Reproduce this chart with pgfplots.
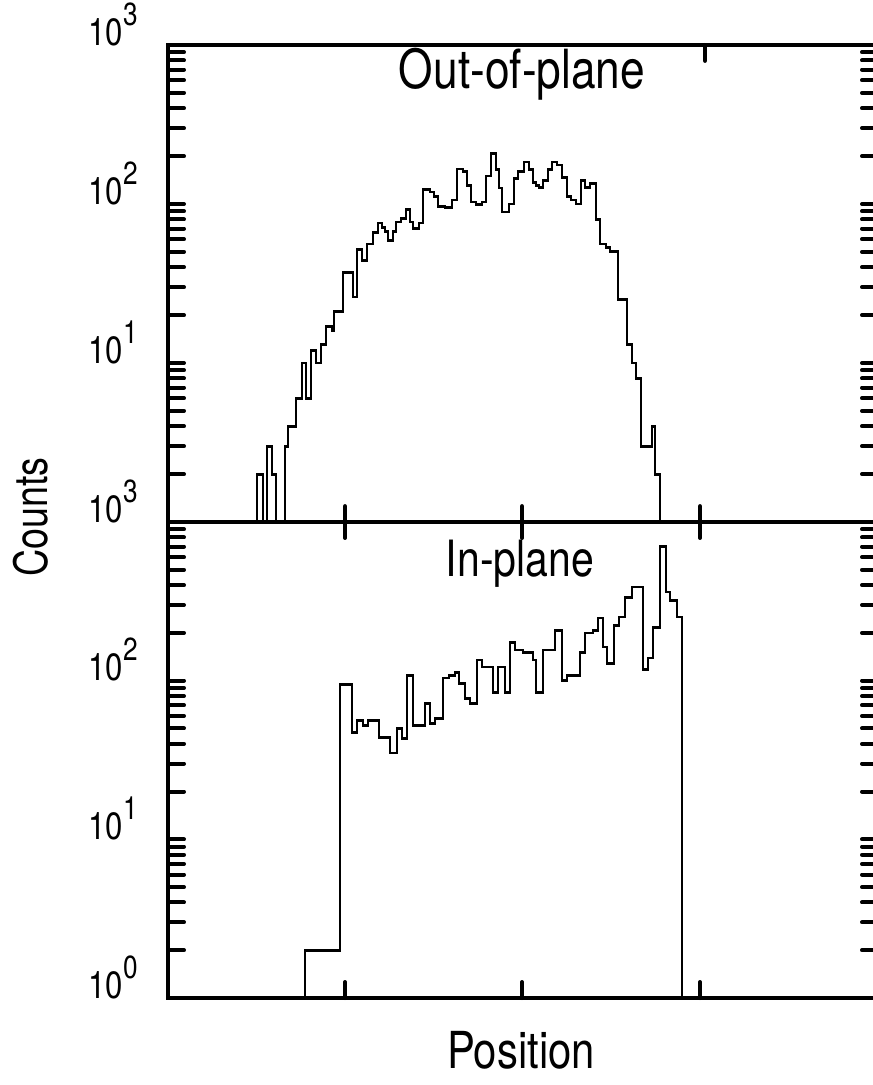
\documentclass[border=0pt]{standalone}
\usepackage{fontspec}
\setmainfont{TeX Gyre Heros}[FakeStretch=0.82]
\usepackage{pgfplots}
\pgfplotsset{compat=1.18}
\newcommand\tlab[1]{10\raisebox{0.52em}{\fontsize{32}{32}\selectfont #1}}
\pgfplotstableread{
x y
257 1
257 2
263 1
267 3
272 2
276 1
285 3
288 4
296 6
302 10
306 6
311 12
316 10
321 13
326 17
332 16
334 21
343 37
353 26
357 52
362 44
367 56
373 66
378 76
382 71
385 67
388 59
393 67
396 77
401 81
406 92
410 77
413 70
419 76
423 124
430 119
434 112
438 96
445 95
452 106
457 166
463 160
467 130
471 103
476 99
482 103
486 150
491 209
496 164
499 126
502 89
509 100
514 144
518 160
524 184
529 164
533 137
536 130
539 127
543 141
548 164
552 184
557 176
562 146
567 112
571 106
576 100
581 141
585 127
590 135
596 80
600 56
606 53
610 50
618 25
627 13
632 10
636 8
641 3
652 4
655 2
660 1
}\outplane
\pgfplotstableread{
x y
305 1
305 2
340 95
352 47
357 56
363 52
368 56
379 44
390 35
397 50
402 43
407 108
413 52
425 72
430 54
435 58
443 104
449 108
455 112
459 96
465 77
470 72
477 135
482 122
493 84
498 122
505 84
510 175
515 156
523 150
533 135
536 84
543 156
555 208
562 100
567 108
580 150
585 200
593 208
598 248
603 163
607 129
614 224
619 252
625 336
632 389
643 118
648 139
653 216
660 705
666 362
670 322
677 252
682 1
}\inplane
\begin{document}
\begin{tikzpicture}
\pgfplotsset{every axis/.append style={
    ymode=log, scale only axis, width=710pt,
    xmin=168, xmax=878, ymin=1, ymax=1000,
    axis line style={line width=4pt},
    tick style={line width=4pt, black, line cap=round},
    major tick length=16pt, minor tick length=16pt,
    tick align=inside,
    xticklabels={}}}
\begin{axis}[at={(168pt,-45pt)}, anchor=north west, height=477pt,
    ytick={1,10,100,1000},
    minor ytick={2,3,4,5,6,7,8,9,20,30,40,50,60,70,80,90,200,300,400,500,600,700,800,900},
    xtick={345,522,700}, xtick pos=bottom,
    yticklabel style={anchor=base east, inner sep=0pt, xshift=-30pt,
      font=\fontsize{38}{38}\selectfont},
    yticklabels={,\tlab{1},\tlab{2},\tlab{3}}]
\addplot[const plot mark left, no marks, black, line width=2.8pt, line join=miter] table[x=x,y=y] {\outplane};
\end{axis}
\begin{axis}[at={(168pt,-45pt)}, anchor=north west, height=477pt,
    axis x line*=top, axis y line=none,
    xtick={705}, ytick=\empty]
\end{axis}
\begin{axis}[at={(168pt,-522pt)}, anchor=north west, height=476pt,
    ytick={1,10,100,1000},
    minor ytick={2,3,4,5,6,7,8,9,20,30,40,50,60,70,80,90,200,300,400,500,600,700,800,900},
    xtick={345,522,700},
    yticklabel style={anchor=base east, inner sep=0pt, xshift=-30pt,
      font=\fontsize{38}{38}\selectfont},
    yticklabels={\tlab{0},\tlab{1},\tlab{2},\tlab{3}}]
\addplot[const plot mark left, no marks, black, line width=2.8pt, line join=miter] table[x=x,y=y] {\inplane};
\end{axis}
\node[anchor=base, font=\fontsize{54}{54}\selectfont, inner sep=0pt] at (522pt,-88pt) {Out-of-plane};
\node[anchor=base, font=\fontsize{50}{50}\selectfont, inner sep=0pt] at (520pt,-576pt) {In-plane};
\node[rotate=90, font=\fontsize{46}{46}\selectfont, inner sep=0pt] at (31pt,-517pt) {Counts};
\node[font=\fontsize{51}{51}\selectfont, inner sep=0pt] at (521pt,-1050pt) {Position};
\pgfresetboundingbox
\path (0pt,0pt) rectangle (873pt,-1085pt);
\end{tikzpicture}
\end{document}
